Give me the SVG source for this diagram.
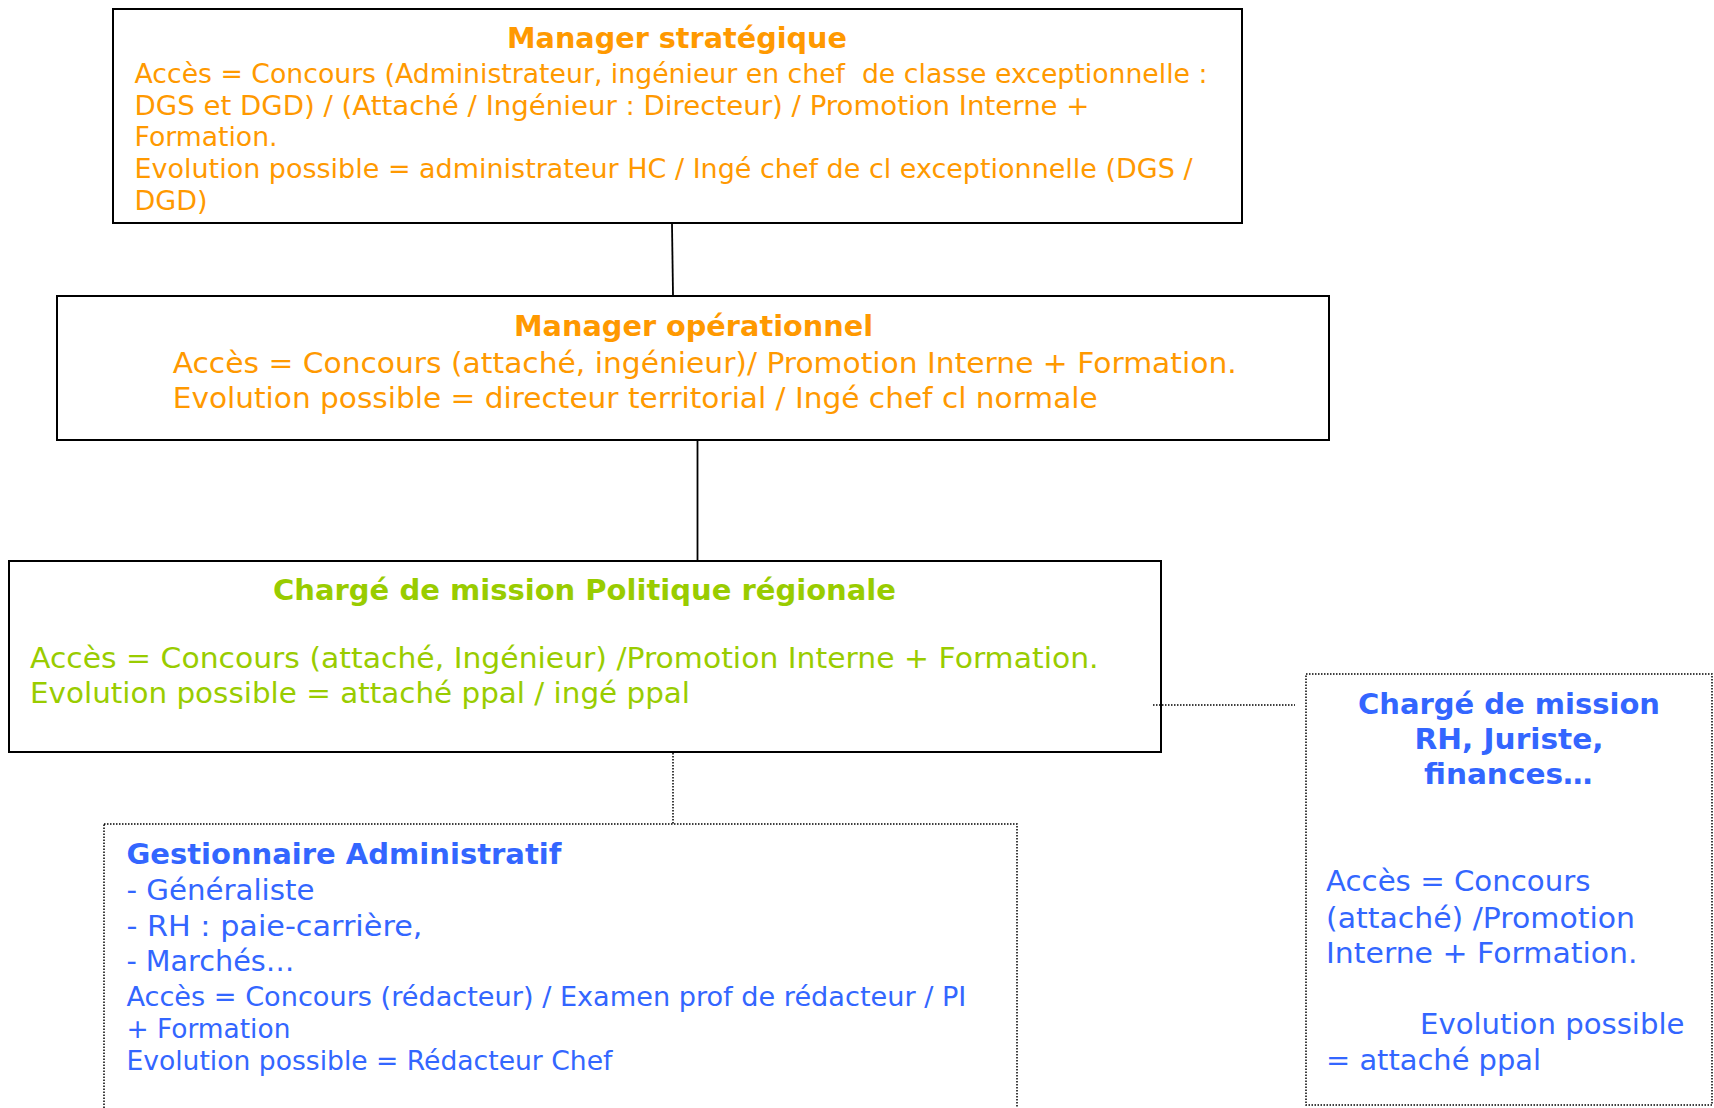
<svg xmlns="http://www.w3.org/2000/svg" width="1714" height="1108" viewBox="0 0 1714 1108">
<style>
text{font-family:"DejaVu Sans",Verdana,"Liberation Sans",sans-serif;}
.box{fill:#fff;stroke:#000;stroke-width:2;}
.dbox{fill:#fff;stroke:#000;stroke-width:1.5;stroke-dasharray:1.5 1.5;}
.line{stroke:#000;stroke-width:1.8;fill:none;}
.dline{stroke:#000;stroke-width:1.5;stroke-dasharray:1.5 1.5;fill:none;}
.or{fill:#FF9900;}
.gr{fill:#99CC00;}
.bl{fill:#3366FF;}
.b{font-weight:bold;}
.s26{font-size:26px;}
.s29{font-size:29px;}
.s28{font-size:28px;}
</style>
<rect width="1714" height="1108" fill="#fff"/>
<g id="manager-strategique">
<rect class="box" x="113" y="9" width="1129" height="214"/>
<text class="or b s28" x="507" y="47.5" textLength="340" lengthAdjust="spacingAndGlyphs">Manager stratégique</text>
<text class="or s26" x="134.5" y="82.5" textLength="1073" lengthAdjust="spacingAndGlyphs" style="white-space:pre">Accès = Concours (Administrateur, ingénieur en chef  de classe exceptionnelle :</text>
<text class="or s26" x="134.5" y="114.5" textLength="955" lengthAdjust="spacingAndGlyphs">DGS et DGD) / (Attaché / Ingénieur : Directeur) / Promotion Interne +</text>
<text class="or s26" x="134.5" y="146" textLength="143" lengthAdjust="spacingAndGlyphs">Formation.</text>
<text class="or s26" x="134.5" y="178" textLength="1058" lengthAdjust="spacingAndGlyphs">Evolution possible = administrateur HC / Ingé chef de cl exceptionnelle (DGS /</text>
<text class="or s26" x="134.5" y="210" textLength="73" lengthAdjust="spacingAndGlyphs">DGD)</text>
</g>
<g id="manager-operationnel">
<rect class="box" x="57" y="296" width="1272" height="144"/>
<text class="or b s28" x="514" y="335.5" textLength="359" lengthAdjust="spacingAndGlyphs">Manager opérationnel</text>
<text class="or s29" x="172.7" y="372.5" textLength="1064" lengthAdjust="spacingAndGlyphs">Accès = Concours (attaché, ingénieur)/ Promotion Interne + Formation.</text>
<text class="or s29" x="172.7" y="407.5" textLength="925" lengthAdjust="spacingAndGlyphs">Evolution possible = directeur territorial / Ingé chef cl normale</text>
</g>
<g id="charge-mission-politique">
<rect class="box" x="9" y="561" width="1152" height="191"/>
<text class="gr b s28" x="273" y="600" textLength="623" lengthAdjust="spacingAndGlyphs">Chargé de mission Politique régionale</text>
<text class="gr s29" x="30" y="667.5" textLength="1068.6" lengthAdjust="spacingAndGlyphs">Accès = Concours (attaché, Ingénieur) /Promotion Interne + Formation.</text>
<text class="gr s29" x="30" y="702.5" textLength="660" lengthAdjust="spacingAndGlyphs">Evolution possible = attaché ppal / ingé ppal</text>
</g>
<g id="charge-mission-rh">
<rect class="dbox" x="1306" y="674" width="406" height="431"/>
<text class="bl b s29" x="1358" y="713.5" textLength="302" lengthAdjust="spacingAndGlyphs">Chargé de mission</text>
<text class="bl b s29" x="1414.5" y="749" textLength="189" lengthAdjust="spacingAndGlyphs">RH, Juriste,</text>
<text class="bl b s29" x="1424" y="784" textLength="168.6" lengthAdjust="spacingAndGlyphs">finances…</text>
<text class="bl s29" x="1326" y="891" textLength="264.5" lengthAdjust="spacingAndGlyphs">Accès = Concours</text>
<text class="bl s29" x="1326" y="927.5" textLength="309" lengthAdjust="spacingAndGlyphs">(attaché) /Promotion</text>
<text class="bl s29" x="1326" y="962.5" textLength="311.5" lengthAdjust="spacingAndGlyphs">Interne + Formation.</text>
<text class="bl s29" x="1420" y="1034" textLength="264.5" lengthAdjust="spacingAndGlyphs">Evolution possible</text>
<text class="bl s29" x="1326" y="1069.5" textLength="215" lengthAdjust="spacingAndGlyphs">= attaché ppal</text>
</g>
<g id="gestionnaire-administratif">
<rect class="dbox" x="104" y="824" width="913" height="300"/>
<text class="bl b s29" x="126.4" y="864" textLength="435" lengthAdjust="spacingAndGlyphs">Gestionnaire Administratif</text>
<text class="bl s29" x="126.4" y="900" textLength="188" lengthAdjust="spacingAndGlyphs">- Généraliste</text>
<text class="bl s29" x="126.4" y="936" textLength="296" lengthAdjust="spacingAndGlyphs">- RH : paie-carrière,</text>
<text class="bl s29" x="126.4" y="971" textLength="168" lengthAdjust="spacingAndGlyphs">- Marchés…</text>
<text class="bl s26" x="126.4" y="1006" textLength="840" lengthAdjust="spacingAndGlyphs">Accès = Concours (rédacteur) / Examen prof de rédacteur / PI</text>
<text class="bl s26" x="126.4" y="1037.5" textLength="164" lengthAdjust="spacingAndGlyphs">+ Formation</text>
<text class="bl s26" x="126.4" y="1070" textLength="486" lengthAdjust="spacingAndGlyphs">Evolution possible = Rédacteur Chef</text>
</g>
<g id="connectors">
<line class="line" x1="672" y1="224" x2="673" y2="295"/>
<line class="line" x1="697.5" y1="441" x2="697.5" y2="560"/>
<line class="dline" x1="673" y1="753" x2="673" y2="824"/>
<line class="dline" x1="1153" y1="705" x2="1295" y2="705"/>
</g>
</svg>
